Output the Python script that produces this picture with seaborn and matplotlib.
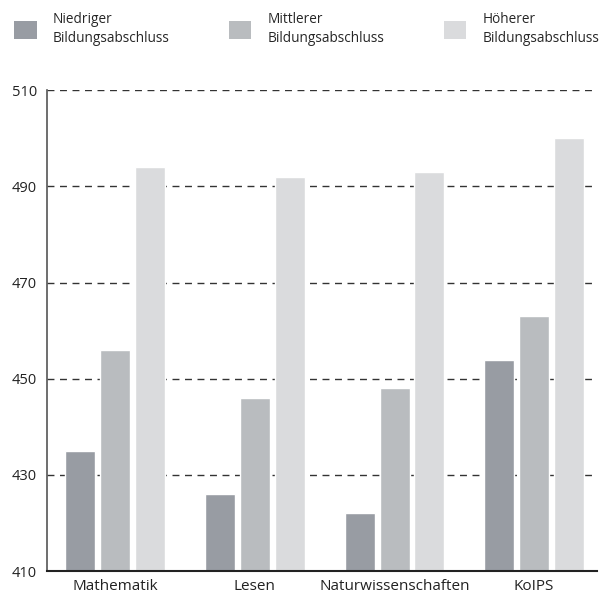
import pandas as pd
import matplotlib.pyplot as plt
import seaborn as sns
from matplotlib.patches import Patch

domains = ['Mathematik', 'Lesen', 'Naturwissenschaften', 'KoIPS']
groups = ['Niedriger\nBildungsabschluss', 'Mittlerer\nBildungsabschluss', 'Höherer\nBildungsabschluss']
niedrig = [435, 426, 422, 454]
mittel = [456, 446, 448, 463]
hoch = [494, 492, 493, 500]
colors = ['#989ca3', '#b9bcbf', '#dadbdd']
yticks = [410, 430, 450, 470, 490, 510]

df = pd.DataFrame({
    'domain': domains * 3,
    'group': [groups[0]] * 4 + [groups[1]] * 4 + [groups[2]] * 4,
    'score': niedrig + mittel + hoch,
})

sns.set_style('white')
plt.rcParams['font.family'] = ['Open Sans', 'DejaVu Sans']

fig = plt.figure(figsize=(6, 5.98), dpi=100)
ax = fig.add_axes([0.078, 0.045, 0.917, 0.804])

sns.barplot(data=df, x='domain', y='score', hue='group', palette=colors,
            width=0.75, gap=0.14, saturation=1, legend=False, ax=ax, zorder=2)

ax.set_ylim(410, 510)
ax.set_xlim(-0.49, 3.45)
ax.set_yticks(yticks)
ax.set_yticklabels([str(t) for t in yticks], fontsize=10.5, color='#222222')
ax.tick_params(axis='x', labelsize=11, colors='#222222', length=0, pad=6)
ax.tick_params(axis='y', length=0, pad=7)
for t in yticks[1:]:
    ax.axhline(t, color='#333333', linestyle=(0, (5, 4)), linewidth=1, zorder=1)
ax.set_xlabel('')
ax.set_ylabel('')
for s in ['top', 'right']:
    ax.spines[s].set_visible(False)
ax.spines['left'].set_color('#555555')
ax.spines['left'].set_linewidth(1.2)
ax.spines['bottom'].set_color('#222222')
ax.spines['bottom'].set_linewidth(1.5)

handles = [Patch(facecolor=c, edgecolor='none') for c in colors]
leg = fig.legend(handles, groups, loc='upper left', bbox_to_anchor=(0.003, 1.0), ncol=3,
                 frameon=False, fontsize=9.8, handlelength=1.65, handleheight=1.65,
                 handletextpad=1.2, columnspacing=4.35, labelspacing=0.3)
for t in leg.get_texts():
    t.set_linespacing(1.35)

fig.savefig('out.png', dpi=100)
